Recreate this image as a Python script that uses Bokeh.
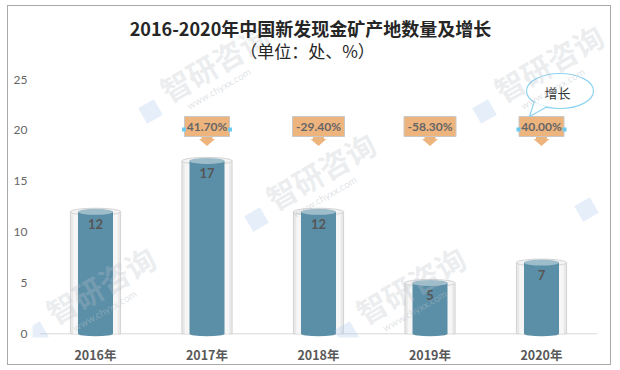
import math
from bokeh.plotting import figure
from bokeh.models import Range1d, FixedTicker
from bokeh.core.properties import value
from bokeh.embed import file_html
from bokeh.resources import INLINE

# ---------------- data ----------------
years = ["2016年", "2017年", "2018年", "2019年", "2020年"]
counts = [12, 17, 12, 5, 7]
growth_labels = ["41.70%", "-29.40%", "-58.30%", "40.00%"]
y_ticks = [0, 5, 10, 15, 20, 25]
title_text = "2016-2020年中国新发现金矿产地数量及增长"
subtitle_text = "（单位：处、%）"
legend_text = "增长"

# ---------------- geometry helpers (reference pixel -> data) ----------------
W, H = 604, 360          # canvas inside a 1px CSS border, placed at (7,5)
X0_REF, XSTEP = 95.0, 111.5
Y0_REF, YSTEP = 333.3, 10.17


def rx(px):
    return (px - X0_REF) / XSTEP


def ry(py):
    return (Y0_REF - py) / YSTEP


xs = list(range(len(years)))

p = figure(width=W, height=H,
           x_range=Range1d(rx(32), rx(612)), y_range=Range1d(ry(337), ry(6)),
           output_backend="svg", toolbar_location=None,
           min_border_left=24, min_border_right=0, min_border_top=0, min_border_bottom=29)
p.background_fill_color = "white"
p.border_fill_color = "white"
p.outline_line_color = None
p.xgrid.visible = False
p.ygrid.visible = False
p.styles = {"border": "1px solid #A9A9A9", "margin": "5px 0px 0px 7px"}

# axes
p.xaxis.ticker = FixedTicker(ticks=xs)
p.xaxis.major_label_overrides = {i: y for i, y in enumerate(years)}
p.yaxis.ticker = FixedTicker(ticks=y_ticks)
for ax in (p.xaxis[0], p.yaxis[0]):
    ax.axis_line_color = None
    ax.major_tick_line_color = None
    ax.minor_tick_line_color = None
    ax.major_tick_out = 0
    ax.major_tick_in = 0
    ax.minor_tick_out = 0
    ax.minor_tick_in = 0
p.xaxis.major_label_text_font = "Noto Sans CJK SC"
p.xaxis.major_label_text_font_style = "bold"
p.xaxis.major_label_text_font_size = "12.5px"
p.xaxis.major_label_text_color = "#595959"
p.xaxis.major_label_standoff = 7
p.yaxis.major_label_text_font = "Lato"
p.yaxis.major_label_text_font_size = "12px"
p.yaxis.major_label_text_color = "#666666"
p.yaxis.major_label_standoff = 5

# baseline
p.segment(x0=[-0.5], y0=[0], x1=[len(years) - 0.5], y1=[0], line_color="#D9D9D9", line_width=1)

# outer glass cylinders
p.vbar(x=xs, top=counts, bottom=0, width=0.45, fill_color="#E8E8E8", line_color="#D4D4D4", line_width=1)
p.vbar(x=xs, top=counts, bottom=0, width=0.40, fill_color="#F6F6F6", line_color=None)
p.ellipse(x=xs, y=counts, width=0.45, height=7, height_units="screen",
          fill_color="#F3F3F3", line_color="#D4D4D4", line_width=1)

# inner bars
bar_color = "#5B8FA7"
p.vbar(x=xs, top=counts, bottom=0, width=0.314, fill_color=bar_color, line_color=None)
p.ellipse(x=xs, y=[0] * len(xs), width=0.314, height=5, height_units="screen",
          fill_color=bar_color, line_color=None)
p.ellipse(x=xs, y=counts, width=0.314, height=6, height_units="screen",
          fill_color="#9DBDCB", line_color=None)

# value labels
p.text(x=xs, y=counts, text=[str(c) for c in counts], y_offset=12,
       text_align="center", text_baseline="middle",
       text_font=value("Lato"), text_font_style="bold", text_font_size="13px",
       text_color="#565656")

# growth callouts
gx = xs[1:]
box_y = ry(126)
widths = [7 * len(t) + 3 for t in growth_labels]
orange = "#EEB47E"
shaft, head = 5.5 / XSTEP, 8 / XSTEP
yb, ys, yt = ry(135), ry(138.5), ry(145.5)
arr_x, arr_y = [], []
for x in gx:
    arr_x.append([x - shaft, x + shaft, x + shaft, x + head, x, x - head, x - shaft])
    arr_y.append([yb, yb, ys, ys, yt, ys, ys])
p.patches(xs=arr_x, ys=arr_y, fill_color=orange, line_color=None)
p.rect(x=gx, y=[box_y] * len(gx), width=widths, height=20,
       width_units="screen", height_units="screen",
       fill_color=orange, line_color="#C8C8C8", line_width=1)
p.text(x=gx, y=[box_y] * len(gx), text=growth_labels,
       text_align="center", text_baseline="middle",
       text_font=value("Lato"), text_font_style="bold", text_font_size="12px",
       text_color="#666666")
# selection handles on first and last callouts
hx, hy = [], []
for i in (0, len(gx) - 1):
    half = (widths[i] / 2 + 0.5) / XSTEP
    hx += [gx[i] - half, gx[i] + half]
    hy += [ry(129), ry(129)]
p.scatter(x=hx, y=hy, marker="square", size=4, fill_color="#6CCAF0", line_color=None)

# speech bubble "增长"
dx_last = xs[-1] - rx(541)
bx, by = rx(559.5) + dx_last, ry(90.5)
p.ellipse(x=[bx], y=[by], width=67, height=35, width_units="screen", height_units="screen",
          fill_color="white", line_color="#8ED4F2", line_width=1.2)
t1 = (rx(533.6) + dx_last, ry(101.6))
tip = (rx(529) + dx_last, ry(116))
t2 = (rx(546.1) + dx_last, ry(106.5))
p.patch(x=[t1[0], tip[0], t2[0]], y=[t1[1], tip[1], t2[1]], fill_color="white", line_color=None)
p.line(x=[t1[0], tip[0], t2[0]], y=[t1[1], tip[1], t2[1]], line_color="#8ED4F2", line_width=1.2)
p.text(x=[rx(557) + dx_last], y=[ry(92)], text=[legend_text],
       text_align="center", text_baseline="middle",
       text_font=value("Noto Sans CJK SC"), text_font_size="13px", text_color="#333333")

# watermarks (decoration, kept inside the plot area, drawn under the titles)
ang = math.radians(30)
wm_centers = [(214, 62), (548, 62), (320, 170), (100, 284), (410, 284)]
p.text(x=[rx(c[0]) for c in wm_centers], y=[ry(c[1]) for c in wm_centers],
       text=["智研咨询"] * len(wm_centers), angle=ang, text_align="center", text_baseline="middle",
       text_font=value("Noto Sans CJK SC"), text_font_style="bold", text_font_size="30px",
       text_color="#B8C0C8", text_alpha=0.28)
p.text(x=[rx(c[0] + 4) for c in wm_centers], y=[ry(c[1] + 26) for c in wm_centers],
       text=["www.chyxx.com"] * len(wm_centers), angle=ang, text_align="center",
       text_baseline="middle", text_font=value("Lato"), text_font_size="10px",
       text_color="#B8C0C8", text_alpha=0.45)
logo_pts = [(c[0] - 64, c[1] + 49) for c in wm_centers] + [(586, 209)]
p.rect(x=[rx(c[0]) for c in logo_pts], y=[ry(c[1]) for c in logo_pts], width=18, height=18,
       width_units="screen", height_units="screen", angle=ang,
       fill_color="#A9C7EA", fill_alpha=0.3, line_color=None)

# titles
p.text(x=[rx(310)], y=[ry(27)], text=[title_text], text_align="center", text_baseline="middle",
       text_font=value("Noto Sans CJK SC"), text_font_style="bold", text_font_size="18px",
       text_color="#262626")
p.text(x=[rx(307)], y=[ry(50)], text=[subtitle_text], text_align="center", text_baseline="middle",
       text_font=value("Noto Sans CJK SC"), text_font_size="17px", text_color="#262626")

open("out.html", "w").write(file_html(p, INLINE))
